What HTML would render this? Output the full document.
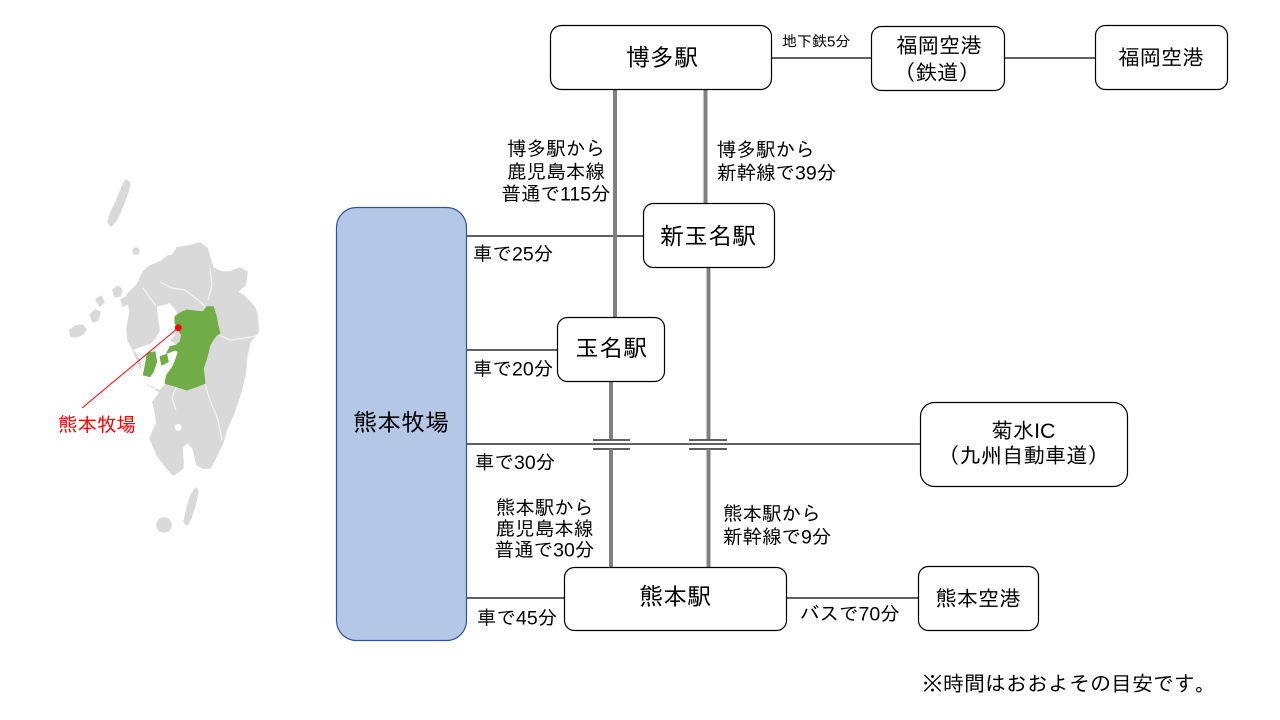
<!DOCTYPE html>
<html>
<head>
<meta charset="utf-8">
<style>
html,body{margin:0;padding:0;background:#fff;}
svg{display:block;}
text{font-family:"Liberation Sans","IPAGothic","Noto Sans CJK JP",sans-serif;fill:#000;}
.m{font-size:24px;text-anchor:middle;}
.s{font-size:21.3px;text-anchor:middle;}
.e{font-size:19.5px;}
.ec{font-size:19.5px;text-anchor:middle;}
</style>
</head>
<body>
<svg width="1280" height="720" viewBox="0 0 1280 720" xmlns="http://www.w3.org/2000/svg">
<rect x="0" y="0" width="1280" height="720" fill="#fff"/>

<!-- ===== Map ===== -->
<g fill="#d9d9d9" stroke="#d9d9d9" stroke-width="1.5" stroke-linejoin="round">
  <polygon points="126,180 130,183 128,192 125,200 122,208 119,215 115,222 111,226 108,222 111,212 116,202 120,192 123,185"/>
  <circle cx="136" cy="251" r="3"/>
  <polygon points="70,330 76,326 82,325 86,329 83,334 76,337 71,336"/>
  <polygon points="90,315 95,310 100,312 98,320 93,322"/>
  <polygon points="96,300 101,296 104,302 100,306"/>
  <polygon points="113,290 118,286 122,290 120,296 115,297"/>
  <polygon points="121,300 126,297 127,304 123,306"/>
  <polygon points="143,272 150,266 160,262 168,256 173,255 177,248 188,246 200,243 207,248 210,258 213,268 222,272 230,272 240,268 247,272 246,280 245,285 237,292 244,296 250,302 255,308 257,315 258,324 258,332 250,342 247,355 245,375 240,395 233,415 227,428 223,442 217,455 210,468 203,468 197,465 193,448 187,442 182,448 183,460 183,468 178,472 173,475 167,468 157,455 150,438 157,422 153,402 160,392 155,388 148,385 143,372 138,362 133,350 128,340 127,328 130,312 127,295 132,290 137,285"/>
  <polygon points="196,488 198,492 195,505 191,518 187,525 184,522 187,508 191,495"/>
  <circle cx="164" cy="525" r="7"/>
</g>
<!-- seas -->
<g fill="#fff">
  <polygon points="156.7,306.7 170,303.3 176.7,311.7 177,325 175,335 170,340 176,345 178,352 175,362 171,368 167,375 165,384 160,390 155,388 148,385 143,378 141,368 140,360 136,353 133,350 143,346 150,344 156,338 160,330 158,318"/>
  <circle cx="178.3" cy="427.5" r="3.5"/>
</g>
<!-- prefecture borders -->
<g fill="none" stroke="#f2f2f2" stroke-width="1.2">
  <polyline points="210,268 212,285 208,300"/>
  <polyline points="143,288 150,298 156,306"/>
  <polyline points="160,282 172,288 185,290 198,300 206,307"/>
  <polyline points="217,334 230,340 245,338 256,336"/>
  <polyline points="205,384 210,400 218,420 222,440"/>
  <polyline points="176,387 172,398 176,410"/>
</g>
<!-- Kumamoto -->
<g fill="#70ad47" stroke="#70ad47" stroke-width="1" stroke-linejoin="round">
  <polygon points="175,316.7 180,313 186.7,310 195,311 203.3,311.7 206.7,306.7 213.3,306.7 215,312 216.7,318.3 218,326 220,333.3 216.7,335 213,340 210,345 206.7,358.3 203.3,368.3 205,383.3 196.7,386.7 186.7,390 176.7,386.7 165,383.3 166.7,375 171.7,368.3 175,361.7 178.3,351.7 175,350 166.7,353.3 170,346.7 176.7,345 180,341.7 181.7,335 178.3,330 175,323.3"/>
  <polygon points="147.3,353.3 155,351.7 156.7,361.7 153.3,371.7 150,376.7 143.3,375 145,366.7"/>
  <polygon points="160,356.7 166.7,354.3 168.3,361.7 161.7,365"/>
</g>
<line x1="178.3" y1="327.7" x2="82" y2="408" stroke="#ff0000" stroke-width="1"/>
<circle cx="178.3" cy="327.7" r="3.4" fill="#ff0000"/>
<text x="58" y="431.4" class="e" style="fill:#ff0000">熊本牧場</text>

<!-- ===== Connector lines ===== -->
<g stroke="#000" stroke-width="1.2" fill="none">
  <line x1="771" y1="58" x2="871" y2="58"/>
  <line x1="1004" y1="58" x2="1095" y2="58"/>
  <line x1="467" y1="236" x2="643" y2="236"/>
  <line x1="467" y1="350" x2="557" y2="350"/>
  <line x1="467" y1="444" x2="920" y2="444"/>
  <line x1="467" y1="598" x2="564" y2="598"/>
  <line x1="786" y1="598" x2="918" y2="598"/>
  <!-- crossing marks -->
  <line x1="593" y1="440" x2="630" y2="440"/>
  <line x1="593" y1="449" x2="630" y2="449"/>
  <line x1="689" y1="440" x2="727" y2="440"/>
  <line x1="689" y1="449" x2="727" y2="449"/>
</g>
<!-- rail lines (gray) -->
<g stroke="#808080" stroke-width="4" fill="none">
  <line x1="615" y1="89" x2="615" y2="317"/>
  <line x1="611" y1="381" x2="611" y2="439"/>
  <line x1="611" y1="449" x2="611" y2="567"/>
  <line x1="705.5" y1="89" x2="705.5" y2="203"/>
  <line x1="708.5" y1="268" x2="708.5" y2="439"/>
  <line x1="708.5" y1="449" x2="708.5" y2="567"/>
</g>

<!-- ===== Boxes ===== -->
<rect x="336.5" y="207.5" width="130" height="433" rx="20" ry="20" fill="#b4c7e7" stroke="#2f5597" stroke-width="1.2"/>
<g fill="#fff" stroke="#000" stroke-width="1.2">
  <rect x="550.5" y="25.5" width="221" height="64" rx="11" ry="11"/>
  <rect x="871.5" y="26.5" width="133" height="64" rx="10" ry="10"/>
  <rect x="1095.5" y="25.5" width="132" height="64" rx="10" ry="10"/>
  <rect x="643.5" y="203.5" width="131" height="64" rx="10" ry="10"/>
  <rect x="557.5" y="317.5" width="107" height="64" rx="10" ry="10"/>
  <rect x="920.5" y="402.5" width="207" height="84" rx="14" ry="14"/>
  <rect x="564.5" y="567.5" width="222" height="63" rx="10" ry="10"/>
  <rect x="918.5" y="566.5" width="120" height="64" rx="10" ry="10"/>
</g>

<!-- ===== Box labels ===== -->
<text x="662" y="66" class="m">博多駅</text>
<text x="939" y="53" class="s">福岡空港</text>
<text x="937" y="80" class="s">（鉄道）</text>
<text x="1161" y="65" class="s">福岡空港</text>
<text x="708" y="244.5" class="m">新玉名駅</text>
<text x="611" y="356.5" class="m">玉名駅</text>
<text x="401" y="431" class="m">熊本牧場</text>
<text x="1023.5" y="438" class="s">菊水IC</text>
<text x="1023.5" y="463" class="s">（九州自動車道）</text>
<text x="675" y="605" class="m">熊本駅</text>
<text x="978" y="606" class="s">熊本空港</text>

<!-- ===== Edge labels ===== -->
<text x="782" y="46.7" style="font-size:15px">地下鉄5分</text>

<text x="556" y="155.4" class="ec">博多駅から</text>
<text x="556" y="178.4" class="ec">鹿児島本線</text>
<text x="556" y="200.6" class="ec">普通で115分</text>

<text x="717" y="156.4" class="e">博多駅から</text>
<text x="717" y="179.4" class="e">新幹線で39分</text>

<text x="473" y="260.4" class="e">車で25分</text>
<text x="473" y="375.4" class="e">車で20分</text>
<text x="475" y="469" class="e">車で30分</text>

<text x="544.5" y="514.4" class="ec">熊本駅から</text>
<text x="544.5" y="535.4" class="ec">鹿児島本線</text>
<text x="544.5" y="556.4" class="ec">普通で30分</text>

<text x="723" y="520.4" class="e">熊本駅から</text>
<text x="723" y="543.4" class="e">新幹線で9分</text>

<text x="477" y="624.4" class="e">車で45分</text>
<text x="800" y="620.4" class="e">バスで70分</text>

<text x="922" y="691" style="font-size:21px">※時間はおおよその目安です。</text>
</svg>
</body>
</html>
